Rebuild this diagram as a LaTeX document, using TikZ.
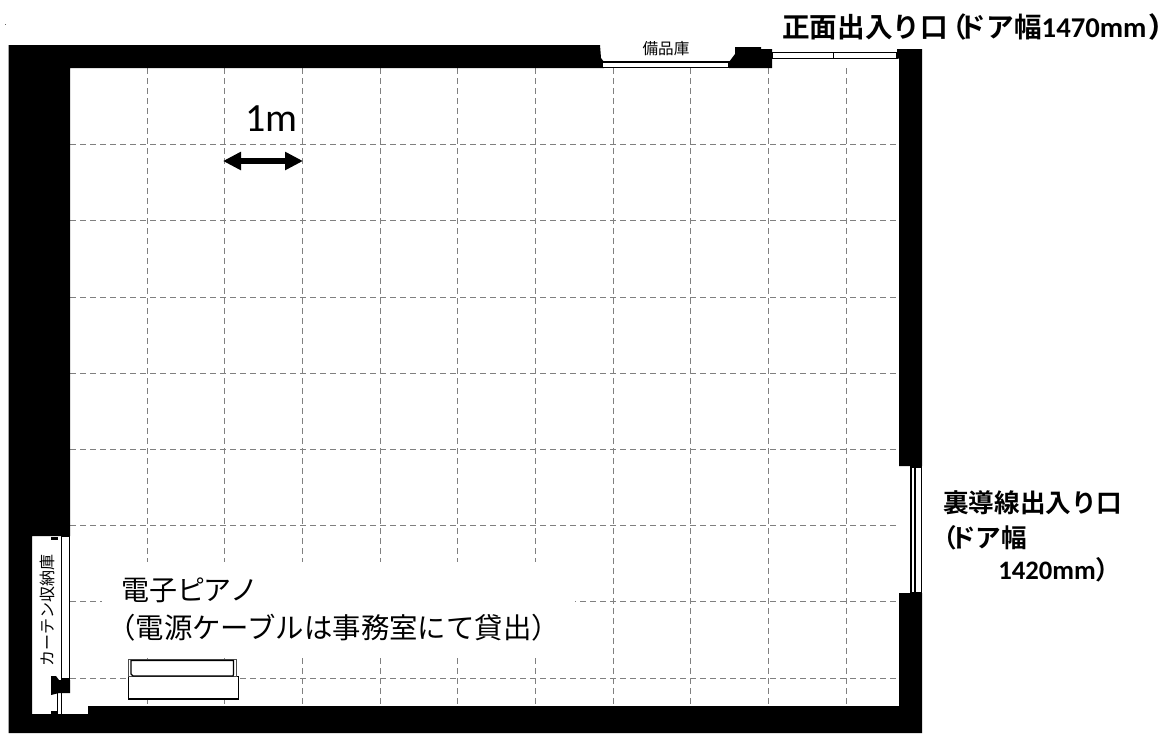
\documentclass[tikz,border=0pt]{standalone}
\usepackage{fontspec}
\usetikzlibrary{arrows.meta}
\newfontfamily\jpfont[BoldFont={Noto Sans CJK JP Bold}]{Noto Sans CJK JP}
\newfontfamily\jppalt[RawFeature=+palt]{Noto Sans CJK JP Bold}
\newfontfamily\latinb{Carlito}
\tikzset{
  x=0.75pt,y=-0.75pt,
  wall/.style={fill=black,draw=none},
  gridline/.style={draw=black!50,line width=0.75pt,dash pattern=on 4.5pt off 3pt},
  thinline/.style={draw=black,line width=1pt,fill=white},
  label/.style={inner sep=0pt,font=\jpfont,anchor=west},
}
\begin{document}
\begin{tikzpicture}
\useasboundingbox (0,0) rectangle (1163,733);
% grid
\foreach \gx in {147.5,224,302,380,457,535,613,690,768,846}
  \draw[gridline] (\gx,68) -- (\gx,706);
\foreach \gy in {144,220,297,373,449,525,601,678}
  \draw[gridline] (70,\gy) -- (899,\gy);
% blank area behind the piano text
\fill[white] (102,562) rectangle (575,658);
\fill[white] (70,602.5) rectangle (102,658);
\draw[gridline] (70,601) -- (102,601);
% walls
\fill[wall] (8.5,45) -- (600,45) -- (601,58) -- (604,62) -- (604,68) -- (70,68) -- (70,536)
  -- (32,536) -- (32,714) -- (88,714) -- (88,706) -- (899,706) -- (899,593) -- (922,593)
  -- (922,733) -- (8.5,733) -- cycle;
\fill[wall] (899,466) -- (899,68) -- (899,58.5) -- (897,58.5) -- (897,49) -- (922,49) -- (922,466) -- cycle;
\fill[wall] (729,68) -- (729,62) -- (732,58) -- (735,54) -- (735,47) -- (761,47) -- (761,49)
  -- (772,49) -- (772,68) -- cycle;
% right door
\fill[wall] (909.5,466) rectangle (922,593);
\fill[white] (911.5,468) rectangle (914,592);
\fill[white] (916,468) rectangle (920.5,592);
% top window
\draw[thinline] (602,62) rectangle (729,67.5);
% top door
\draw[thinline] (772,52.5) rectangle (897,58.5);
\draw[black,line width=0.8pt] (833.5,52.5) -- (833.5,58.5);
% left storage
\fill[white] (62,536) rectangle (70,680);
\draw[thinline] (61.5,536) rectangle (69.5,679);
\fill[wall] (51,537) rectangle (58,540);
\fill[wall] (51,676) -- (56,676) -- (59,680) -- (70,680) -- (70,693) -- (59,693) -- (51,695) -- cycle;
\draw[black,line width=0.8pt] (57.5,693) -- (57.5,714) (61.5,693) -- (61.5,714);
\fill[wall] (51,711) rectangle (57,714);
% piano
\draw[black,line width=0.9pt,fill=white] (128.5,676.5) rectangle (238.5,699);
\draw[black!70,line width=0.9pt,fill=white] (128.5,659.5) rectangle (236.5,676.5);
\draw[black,line width=0.9pt] (131,660.5) -- (131,674) -- (133,676) -- (233,676) -- (233.5,674) -- (233.5,660.5) -- cycle;
% speck
\fill[black!60] (4.5,24) rectangle (5.5,25);
% arrow
\coordinate (ma) at (223,161);
\coordinate (mb) at (303,161);
\draw[{Triangle[width=13pt,length=13.5pt]}-{Triangle[width=13pt,length=13.5pt]},line width=4.2pt] (ma) -- (mb);
% texts
\node[inner sep=0pt,anchor=west,font=\latinb\fontsize{30}{30}\selectfont] (onem) at (245,119) {1m};
\node[label,font=\jpfont\fontsize{11.7}{11.7}\selectfont,anchor=center] (storeroom) at (666,49) {備品庫};
\node[label,font=\jpfont\fontsize{12}{12}\selectfont,anchor=center,rotate=90] (curtain) at (47,610) {カーテン収納庫};
\node[label,font=\jpfont\bfseries\fontsize{20.7}{20.7}\selectfont] (front) at (782,27)
  {正面出入り口\hspace{-0.29em}（\hspace{-0.31em}ドア幅{\latinb\bfseries\fontsize{21.5}{21.5}\selectfont 1470mm}{\jppalt\hspace{0.1em}）}};
\node[label,font=\jpfont\bfseries\fontsize{19.2}{19.2}\selectfont] (backa) at (943,503) {裏導線出入り口};
\node[label,font=\jpfont\bfseries\fontsize{19.2}{19.2}\selectfont] (backb) at (931,538) {（\hspace{-0.26em}ドア幅};
\node[label,font=\jpfont\bfseries\fontsize{19.2}{19.2}\selectfont] (backc) at (998,570) {{\latinb\bfseries\fontsize{20}{20}\selectfont 1420mm}）};
\node[label,font=\jpfont\fontsize{21}{21}\selectfont] (piano) at (121,590) {電子ピ\hspace{-0.05em}ア\hspace{-0.05em}ノ};
\node[label,font=\jpfont\fontsize{21.3}{21.3}\selectfont] (cable) at (107,628) {（電源ケーブルは事務室にて貸出）};
\end{tikzpicture}
\end{document}
